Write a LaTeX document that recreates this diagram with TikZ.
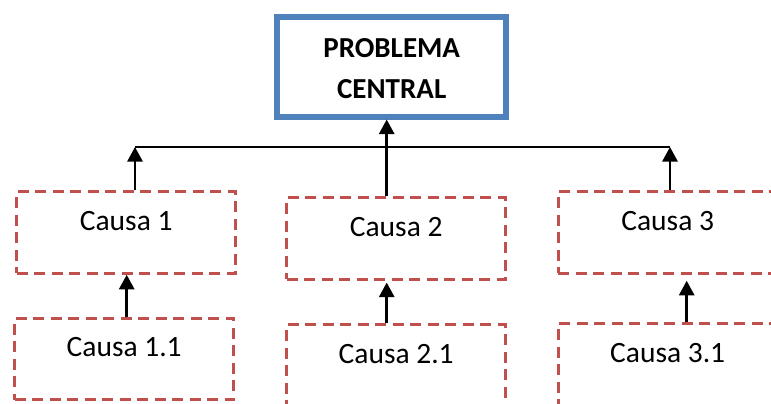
\documentclass[tikz,border=0pt]{standalone}
\usepackage{fontspec}
\setmainfont{Carlito}
\usetikzlibrary{arrows.meta, calc, positioning}
\definecolor{probblue}{RGB}{79,129,189}
\definecolor{causared}{RGB}{192,80,77}
\tikzset{
    probbox/.style={draw=probblue, line width=6pt, minimum width=228.5pt, minimum height=99pt,
        inner sep=0pt, align=center, text height=81.5pt, text depth=17.5pt,
        font=\fontsize{29}{41}\selectfont\bfseries},
    causabox/.style={draw=causared, line width=3pt, dash pattern=on 11pt off 6.5pt,
        minimum width=219pt, minimum height=81.5pt, inner sep=0pt,
        text height=38.5pt, text depth=43pt, font=\fontsize{29.5}{34}\selectfont},
    uparrow/.style={line width=2.6pt, -{Triangle[length=14.5pt,width=15pt]}},
    joinline/.style={line width=2pt}
}
\begin{document}
\begin{tikzpicture}[x=1pt, y=-1pt]
    \useasboundingbox (0,0) rectangle (771,404);
    % problem and causes
    \node[probbox] (prob) at (391.7,67) {PROBLEMA\\CENTRAL};
    \node[causabox] (c1) at (126.2,232.5) {Causa 1};
    \node[causabox] (c2) at (396.2,238.3) {Causa 2};
    \node[causabox] (c3) at (667.7,232.5) {Causa 3};
    \node[causabox] (c11) at (124.2,359) {Causa 1.1};
    \node[causabox] (c21) at (396.2,365.5) {Causa 2.1};
    \node[causabox] (c31) at (667.7,364.5) {Causa 3.1};
    % junctions on the common line
    \coordinate (j1) at (135,147);
    \coordinate (j2) at (386.7,147);
    \coordinate (j3) at (670,147);
    \draw[joinline] (j1) -- (j3);
    \draw[uparrow] (j1 |- c1.north) -- (j1);
    \draw[uparrow] (j3 |- c3.north) -- (j3);
    \draw[uparrow] (j2 |- c2.north) -- (j2 |- prob.south);
    % sub causes
    \coordinate (k1) at (126.7,0);
    \coordinate (k2) at (386.7,0);
    \coordinate (k3) at (686.7,0);
    \draw[uparrow] (k1 |- c11.north) -- (k1 |- c1.south);
    \draw[uparrow] (k2 |- c21.north) -- ($(k2 |- c2.south)+(0,2)$);
    \draw[uparrow] (k3 |- c31.north) -- ($(k3 |- c3.south)+(0,6)$);
\end{tikzpicture}
\end{document}
